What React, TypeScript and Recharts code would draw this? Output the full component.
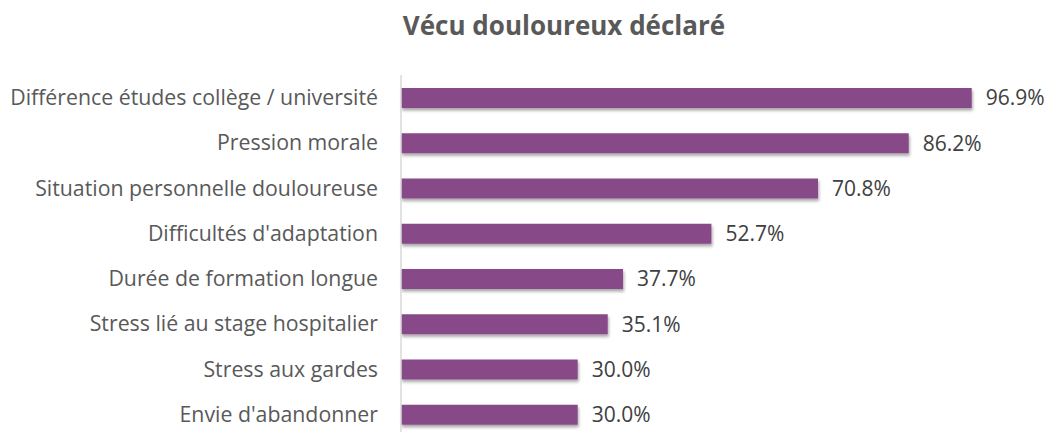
import React from "react";
import { BarChart, Bar, XAxis, YAxis, LabelList } from "recharts";

const categories = [
  "Différence études collège / université",
  "Pression morale",
  "Situation personnelle douloureuse",
  "Difficultés d'adaptation",
  "Durée de formation longue",
  "Stress lié au stage hospitalier",
  "Stress aux gardes",
  "Envie d'abandonner",
];
const values = [96.9, 86.2, 70.8, 52.7, 37.7, 35.1, 30.0, 30.0];
const title = "Vécu douloureux déclaré";

const data = categories.map((name, i) => ({ name, value: values[i] }));

const FONT = "'Open Sans', sans-serif";

export default function App() {
  return (
    <div style={{ position: "fixed", left: 0, top: 0, width: 1050, height: 432, overflow: "hidden", fontFamily: FONT, background: "#fff" }}>
      <svg width={0} height={0} style={{ position: "absolute" }}>
        <defs>
          <filter id="barShadow" x="-5%" y="-30%" width="110%" height="180%">
            <feDropShadow dx="1" dy="2.5" stdDeviation="1.6" floodColor="#000" floodOpacity="0.35" />
          </filter>
        </defs>
      </svg>
      <div
        style={{
          position: "absolute",
          left: 8,
          top: 7,
          width: 1112,
          textAlign: "center",
          fontFamily: FONT,
          fontWeight: 700,
          fontSize: 26,
          color: "#595959",
          zIndex: 2,
          whiteSpace: "nowrap",
        }}
      >
        {title}
      </div>
      <div style={{ position: "absolute", left: 8, top: 8 }}>
        <BarChart
          width={1042}
          height={440}
          data={data}
          layout="vertical"
          margin={{ top: 67, right: 60, bottom: 11, left: 0 }}
        >
          <XAxis type="number" domain={[0, 100]} hide />
          <YAxis
            type="category"
            dataKey="name"
            width={393}
            tickLine={false}
            tickMargin={17}
            axisLine={{ stroke: "#d9d9d9", strokeWidth: 1.5 }}
            tick={{ fill: "#595959", fontSize: 21.3, fontFamily: FONT }}
            interval={0}
          />
          <Bar
            dataKey="value"
            fill="#874a87"
            barSize={20}
            isAnimationActive={false}
            style={{ filter: "url(#barShadow)" }}
          >
            <LabelList
              dataKey="value"
              position="right"
              offset={14}
              formatter={(v: any) => `${Number(v).toFixed(1)}%`}
              style={{ fill: "#404040", fontSize: 21, fontFamily: FONT }}
            />
          </Bar>
        </BarChart>
      </div>
    </div>
  );
}
